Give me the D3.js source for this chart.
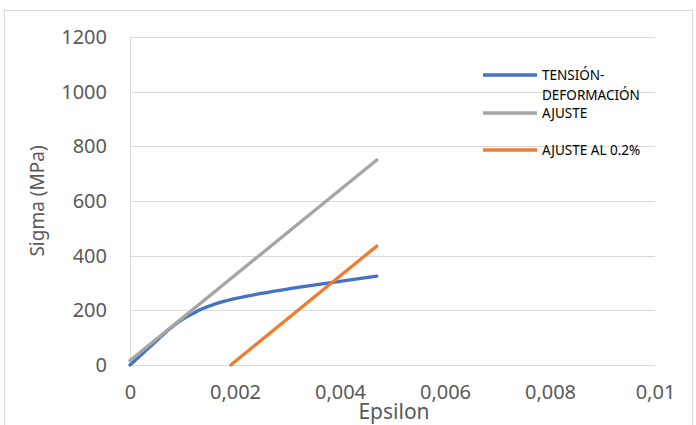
<!DOCTYPE html>
<html><head><meta charset="utf-8">
<script src="https://cdn.jsdelivr.net/npm/d3@7"></script>
<style>html,body{margin:0;padding:0;background:#fff;}svg{display:block;}</style>
</head><body>
<script>
const xTicks = [0, 0.002, 0.004, 0.006, 0.008, 0.01];
const xTickLabels = ["0", "0,002", "0,004", "0,006", "0,008", "0,01"];
const yTicks = [0, 200, 400, 600, 800, 1000, 1200];
const seriesNames = ["TENSIÓN-DEFORMACIÓN", "AJUSTE", "AJUSTE AL 0.2%"];
const tensionEps =   [0, 0.0004, 0.00076, 0.001, 0.0012, 0.00133, 0.0015, 0.0017, 0.0021, 0.0025, 0.003, 0.0035, 0.004, 0.0044, 0.0047];
const tensionSigma = [0, 70, 133, 167, 188, 202, 215, 228, 247, 262, 278, 292, 306, 317, 325];
const ajusteEps = [0, 0.0047];
const ajusteSigma = [16, 750];
const ajuste02Eps = [0.00192, 0.0047];
const ajuste02Sigma = [0, 435];

const W = 696, H = 425;
const svg = d3.select("body").append("svg").attr("width", W).attr("height", H);
svg.append("rect").attr("x", 4.5).attr("y", 10.5).attr("width", 688).attr("height", 430)
  .attr("fill", "#fff").attr("stroke", "#d9d9d9").attr("stroke-width", 1);

const x = d3.scaleLinear().domain([0, 0.01]).range([130, 655]);
const y = d3.scaleLinear().domain([0, 1200]).range([365, 37]);
const font = "'Noto Sans', sans-serif";
const grey = "#595959";

// gridlines
svg.append("g").selectAll("line").data(yTicks).join("line")
  .attr("x1", x(0)).attr("x2", x(0.01))
  .attr("y1", d => Math.round(y(d)) + 0.5).attr("y2", d => Math.round(y(d)) + 0.5)
  .attr("stroke", "#d9d9d9").attr("stroke-width", 1);
// left axis line
svg.append("line").attr("x1", x(0) + 0.5).attr("x2", x(0) + 0.5).attr("y1", y(1200)).attr("y2", y(0))
  .attr("stroke", "#d9d9d9");

// y tick labels
const yAxis = d3.axisLeft(y).tickValues(yTicks).tickSize(0).tickPadding(23).tickFormat(d3.format("d"));
const gy = svg.append("g").attr("transform", `translate(${x(0)},0)`).call(yAxis);
gy.select(".domain").remove();
gy.selectAll("text").attr("font-family", font).attr("font-size", 20).attr("fill", grey);

// x tick labels
const xAxis = d3.axisBottom(x).tickValues(xTicks).tickSize(0).tickPadding(20)
  .tickFormat((d, i) => xTickLabels[i]);
const gx = svg.append("g").attr("transform", `translate(0,${y(0)})`).call(xAxis);
gx.select(".domain").remove();
gx.selectAll("text").attr("font-family", font).attr("font-size", 20).attr("fill", grey);

// axis titles
svg.append("text").attr("x", 394).attr("y", 419).attr("text-anchor", "middle")
  .attr("font-family", font).attr("font-size", 21).attr("fill", grey).text("Epsilon");
svg.append("text").attr("transform", `translate(44,201) rotate(-90)`)
  .attr("text-anchor", "middle").attr("font-family", font).attr("font-size", 19).attr("fill", grey)
  .text("Sigma (MPa)");

const line = d3.line().x(d => x(d[0])).y(d => y(d[1])).curve(d3.curveMonotoneX);
const colors = ["#4472C4", "#A5A5A5", "#ED7D31"];
const data = [
  d3.zip(tensionEps, tensionSigma),
  d3.zip(ajusteEps, ajusteSigma),
  d3.zip(ajuste02Eps, ajuste02Sigma)
];
[0, 1, 2].forEach(i => {
  svg.append("path").attr("d", line(data[i])).attr("fill", "none")
    .attr("stroke", colors[i]).attr("stroke-width", 3.3).attr("stroke-linecap", "round");
});

// legend
const leg = [
  {ys: 75, lines: ["TENSIÓN-", "DEFORMACIÓN"]},
  {ys: 113, lines: ["AJUSTE"]},
  {ys: 150, lines: ["AJUSTE AL 0.2%"]}
];
leg.forEach((L, i) => {
  svg.append("line").attr("x1", 483).attr("x2", 537).attr("y1", L.ys).attr("y2", L.ys)
    .attr("stroke", colors[i]).attr("stroke-width", 3.3);
  L.lines.forEach((t, j) => {
    svg.append("text").attr("x", 542).attr("y", L.ys + 5 + j * 19.5)
      .attr("font-family", font).attr("font-size", 13.5).attr("fill", "#000").text(t);
  });
});
</script>
</body></html>
